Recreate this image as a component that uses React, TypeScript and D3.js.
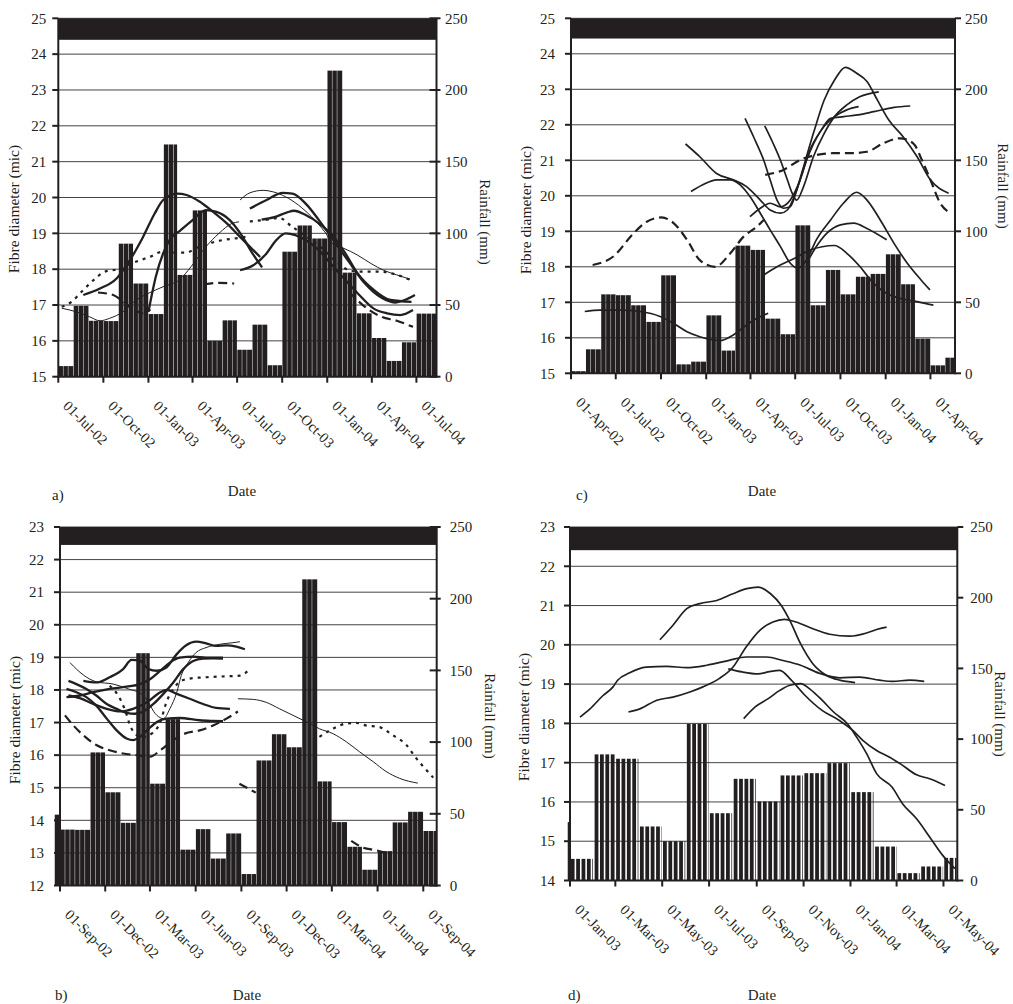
import React from "react";
import * as d3 from "d3";

type Pt = [string, number];
type Style = "thick" | "thin" | "med" | "dash" | "dot";
type Profile = { style: Style; pts: Pt[] };

const parseDay = d3.timeParse("%Y-%m-%d") as (s: string) => Date;
const parseMonth = d3.timeParse("%Y-%m") as (s: string) => Date;
const fmtTick = d3.timeFormat("%d-%b-%y");

// ---------- rainfall, mm per month ----------
// a) and b) are the same site
const rainMonthsAB = [
  "2002-07", "2002-08", "2002-09", "2002-10", "2002-11", "2002-12",
  "2003-01", "2003-02", "2003-03", "2003-04", "2003-05", "2003-06",
  "2003-07", "2003-08", "2003-09", "2003-10", "2003-11", "2003-12",
  "2004-01", "2004-02", "2004-03", "2004-04", "2004-05", "2004-06",
  "2004-07", "2004-08", "2004-09",
];
const rainAB = [
  7.4, 49.4, 39, 38.8, 92.8, 65,
  43.7, 162, 71, 116, 25, 39.3,
  18.8, 36.3, 8, 87.2, 105.5, 96.4,
  213.5, 72.6, 44.2, 27, 11, 24,
  44, 51.4, 38,
];
const rainMonthsC = [
  "2002-04", "2002-05", "2002-06", "2002-07", "2002-08", "2002-09",
  "2002-10", "2002-11", "2002-12", "2003-01", "2003-02", "2003-03",
  "2003-04", "2003-05", "2003-06", "2003-07", "2003-08", "2003-09",
  "2003-10", "2003-11", "2003-12", "2004-01", "2004-02", "2004-03",
  "2004-04", "2004-05",
];
const rainC = [
  1.5, 16.9, 55.6, 55, 47.9, 36.2,
  69, 6.3, 8.2, 40.8, 16, 89.9,
  86.9, 38.5, 27.5, 104.2, 47.9, 72.8,
  55.6, 68, 70, 83.8, 62.7, 24.4,
  5.6, 11,
];
const rainMonthsD = [
  "2002-12", "2003-01", "2003-02", "2003-03", "2003-04", "2003-05",
  "2003-06", "2003-07", "2003-08", "2003-09", "2003-10", "2003-11",
  "2003-12", "2004-01", "2004-02", "2004-03", "2004-04", "2004-05",
];
const rainD = [
  41.3, 15.3, 89.2, 86.1, 38.2, 27.8,
  110.8, 47.6, 71.9, 55.9, 74.3, 75.9,
  83, 62.5, 24, 5.2, 9.9, 16,
];

const rainTicks = [0, 50, 100, 150, 200, 250];

// ---------- date ticks ----------
const ticksA = ["2002-07-01", "2002-10-01", "2003-01-01", "2003-04-01", "2003-07-01", "2003-10-01", "2004-01-01", "2004-04-01", "2004-07-01"];
const ticksB = ["2002-09-01", "2002-12-01", "2003-03-01", "2003-06-01", "2003-09-01", "2003-12-01", "2004-03-01", "2004-06-01", "2004-09-01"];
const ticksC = ["2002-04-01", "2002-07-01", "2002-10-01", "2003-01-01", "2003-04-01", "2003-07-01", "2003-10-01", "2004-01-01", "2004-04-01"];
const ticksD = ["2003-01-01", "2003-03-01", "2003-05-01", "2003-07-01", "2003-09-01", "2003-11-01", "2004-01-01", "2004-03-01", "2004-05-01"];

// ---------- fibre diameter profiles (mic) ----------
const profilesA: Profile[] = [
  { style: "thick", pts: [["2002-08-21", 17.28], ["2002-09-24", 17.46], ["2002-10-28", 17.74], ["2002-11-24", 18.25], ["2002-12-21", 18.9], ["2003-01-14", 19.56], ["2003-01-31", 19.93], ["2003-02-28", 20.11], ["2003-03-20", 20.07], ["2003-04-16", 19.88], ["2003-05-13", 19.6], ["2003-06-10", 19.28], ["2003-07-07", 18.9], ["2003-08-03", 18.53], ["2003-08-17", 18.34]] },
  { style: "thick", pts: [["2003-01-01", 16.81], ["2003-01-16", 17.79], ["2003-01-31", 18.44], ["2003-02-13", 18.81], ["2003-03-08", 19.09], ["2003-04-01", 19.37], ["2003-04-28", 19.65], ["2003-05-20", 19.6], ["2003-06-16", 19.37], ["2003-07-10", 18.95], ["2003-08-01", 18.45], ["2003-08-21", 18.05]] },
  { style: "thin", pts: [["2002-07-08", 16.91], ["2002-08-07", 16.81], ["2002-09-03", 16.67], ["2002-09-24", 16.56], ["2002-10-14", 16.63], ["2002-11-10", 16.81], ["2002-12-07", 17.14], ["2002-12-31", 17.32], ["2003-01-31", 17.51], ["2003-03-05", 17.7], ["2003-03-29", 18.07], ["2003-04-28", 18.62], ["2003-05-25", 19.0], ["2003-06-21", 19.28], ["2003-07-05", 19.32]] },
  { style: "dot", pts: [["2002-07-08", 16.95], ["2002-07-28", 17.09], ["2002-08-21", 17.42], ["2002-09-13", 17.72], ["2002-10-04", 17.93], ["2002-10-28", 17.99], ["2002-11-27", 18.16], ["2002-12-15", 18.25], ["2003-01-05", 18.35], ["2003-01-28", 18.48], ["2003-02-20", 18.46], ["2003-03-19", 18.46], ["2003-04-10", 18.6], ["2003-05-05", 18.72], ["2003-06-01", 18.81], ["2003-06-28", 18.86], ["2003-07-18", 18.9]] },
  { style: "dash", pts: [["2002-09-20", 17.35], ["2002-10-21", 17.28], ["2002-11-10", 17.1], ["2002-12-05", 16.85], ["2002-12-20", 16.77], ["2003-01-05", 16.88]] },
  { style: "dash", pts: [["2003-04-25", 17.58], ["2003-05-25", 17.62], ["2003-06-25", 17.6]] },
  { style: "thin", pts: [["2003-07-07", 19.93], ["2003-07-27", 20.13], ["2003-08-23", 20.2], ["2003-09-12", 20.16], ["2003-10-08", 20.02], ["2003-11-03", 19.79], ["2003-11-30", 19.46], ["2003-12-27", 19.04], ["2004-01-15", 18.67], ["2004-02-04", 18.58], ["2004-03-03", 18.39], ["2004-03-30", 18.16], ["2004-04-25", 17.97], ["2004-05-22", 17.84], ["2004-06-18", 17.72]] },
  { style: "dot", pts: [["2003-07-27", 19.33], ["2003-08-30", 19.38], ["2003-09-25", 19.43], ["2003-10-20", 19.2], ["2003-11-20", 18.9], ["2003-12-20", 18.6], ["2004-01-20", 18.2], ["2004-02-20", 17.95], ["2004-03-20", 17.93], ["2004-04-20", 17.93], ["2004-05-20", 17.85], ["2004-06-22", 17.68]] },
  { style: "thick", pts: [["2003-07-27", 19.69], ["2003-08-30", 19.93], ["2003-10-02", 20.13], ["2003-10-22", 20.11], ["2003-11-18", 19.83], ["2003-12-15", 19.37], ["2004-01-11", 18.86], ["2004-02-14", 18.21], ["2004-03-18", 17.6], ["2004-04-21", 17.2], ["2004-05-18", 17.07], ["2004-06-07", 17.14], ["2004-06-28", 17.28]] },
  { style: "thick", pts: [["2003-08-20", 19.38], ["2003-09-15", 19.45], ["2003-10-10", 19.58], ["2003-10-25", 19.63], ["2003-11-18", 19.51], ["2003-12-15", 19.28], ["2004-01-11", 18.95], ["2004-02-07", 18.44], ["2004-03-03", 17.88], ["2004-04-05", 17.42], ["2004-05-09", 17.14], ["2004-06-21", 17.09]] },
  { style: "thick", pts: [["2003-07-07", 17.97], ["2003-08-03", 18.11], ["2003-08-30", 18.44], ["2003-09-19", 18.81], ["2003-10-08", 19.0], ["2003-10-28", 18.95], ["2003-11-24", 18.76], ["2003-12-15", 18.53], ["2004-01-11", 18.11], ["2004-02-07", 17.7], ["2004-03-03", 17.33], ["2004-04-05", 16.9], ["2004-05-02", 16.77], ["2004-05-29", 16.72], ["2004-06-24", 16.86]] },
  { style: "dash", pts: [["2004-02-14", 17.37], ["2004-03-18", 16.95], ["2004-04-21", 16.67], ["2004-05-22", 16.56], ["2004-06-24", 16.39]] },
];

const profilesB: Profile[] = [
  { style: "thin", pts: [["2002-09-21", 18.84], ["2002-10-18", 18.46], ["2002-11-13", 18.25], ["2002-12-17", 18.18], ["2003-01-13", 18.05], ["2003-02-16", 17.83], ["2003-03-15", 17.22], ["2003-03-28", 17.12], ["2003-04-10", 17.42], ["2003-04-24", 17.93], ["2003-05-03", 18.44], ["2003-05-17", 18.84], ["2003-06-02", 19.15], ["2003-06-22", 19.3], ["2003-07-19", 19.4], ["2003-08-15", 19.45], ["2003-08-29", 19.48]] },
  { style: "thick", pts: [["2002-10-18", 18.28], ["2002-11-13", 18.23], ["2002-12-10", 18.39], ["2003-01-06", 18.64], ["2003-01-23", 18.92], ["2003-02-09", 18.89], ["2003-02-26", 18.64], ["2003-03-15", 18.59], ["2003-04-03", 18.69], ["2003-04-24", 19.1], ["2003-05-13", 19.37], ["2003-06-02", 19.48], ["2003-06-22", 19.43], ["2003-07-12", 19.35], ["2003-08-02", 19.37], ["2003-08-22", 19.33], ["2003-09-08", 19.25]] },
  { style: "thick", pts: [["2002-09-18", 18.28], ["2002-10-04", 18.18], ["2002-10-24", 18.03], ["2002-11-13", 17.83], ["2002-12-04", 17.57], ["2002-12-24", 17.42], ["2003-01-13", 17.3], ["2003-01-30", 17.27], ["2003-02-16", 17.34], ["2003-03-08", 17.57], ["2003-03-28", 17.88], ["2003-04-17", 18.23], ["2003-05-07", 18.64], ["2003-05-27", 18.89], ["2003-06-16", 18.96], ["2003-07-06", 18.97], ["2003-07-26", 18.96]] },
  { style: "thick", pts: [["2002-09-14", 18.03], ["2002-10-04", 17.93], ["2002-10-24", 17.78], ["2002-11-13", 17.52], ["2002-12-04", 17.12], ["2002-12-24", 16.76], ["2003-01-13", 16.51], ["2003-01-26", 16.46], ["2003-02-09", 16.56], ["2003-02-23", 16.76], ["2003-03-15", 17.02], ["2003-04-03", 17.12], ["2003-04-30", 17.14], ["2003-06-09", 17.07], ["2003-07-06", 17.05], ["2003-07-26", 17.04]] },
  { style: "thick", pts: [["2002-09-14", 17.78], ["2002-10-11", 17.83], ["2002-11-07", 17.93], ["2002-12-10", 18.03], ["2003-01-13", 18.1], ["2003-02-09", 18.18], ["2003-03-01", 18.33], ["2003-03-22", 18.59], ["2003-04-10", 18.84], ["2003-04-30", 18.99], ["2003-05-27", 19.02], ["2003-06-22", 18.99], ["2003-07-26", 18.99]] },
  { style: "thick", pts: [["2002-09-18", 17.83], ["2002-10-11", 17.75], ["2002-11-07", 17.57], ["2002-12-04", 17.42], ["2002-12-31", 17.34], ["2003-01-26", 17.42], ["2003-02-23", 17.62], ["2003-03-22", 17.93], ["2003-04-03", 18.0], ["2003-04-24", 17.88], ["2003-05-20", 17.73], ["2003-06-16", 17.57], ["2003-07-12", 17.45], ["2003-08-09", 17.42]] },
  { style: "dot", pts: [["2002-12-10", 18.13], ["2002-12-27", 17.83], ["2003-01-09", 17.42], ["2003-01-23", 16.81], ["2003-02-12", 16.55], ["2003-03-08", 16.7], ["2003-03-22", 17.02], ["2003-04-03", 17.62], ["2003-04-17", 18.03], ["2003-05-03", 18.28], ["2003-05-20", 18.35], ["2003-06-22", 18.39], ["2003-08-02", 18.42], ["2003-08-29", 18.44], ["2003-09-18", 18.64]] },
  { style: "dash", pts: [["2002-09-11", 17.22], ["2002-09-28", 16.91], ["2002-10-18", 16.61], ["2002-11-13", 16.31], ["2002-12-10", 16.15], ["2003-01-06", 16.05], ["2003-02-02", 16.0], ["2003-03-01", 15.95], ["2003-03-22", 16.15], ["2003-04-17", 16.46], ["2003-05-10", 16.66], ["2003-06-09", 16.76], ["2003-07-06", 16.91], ["2003-08-02", 17.12], ["2003-08-25", 17.34]] },
  { style: "thin", pts: [["2003-08-25", 17.73], ["2003-09-25", 17.71], ["2003-10-21", 17.62], ["2003-11-17", 17.42], ["2003-12-14", 17.22], ["2004-01-10", 17.02], ["2004-02-05", 16.81], ["2004-03-03", 16.66], ["2004-03-30", 16.41], ["2004-04-26", 16.1], ["2004-05-23", 15.8], ["2004-06-18", 15.5], ["2004-07-15", 15.29], ["2004-08-21", 15.14]] },
  { style: "dot", pts: [["2004-02-05", 16.56], ["2004-03-03", 16.81], ["2004-03-30", 16.97], ["2004-04-19", 16.99], ["2004-05-09", 16.91], ["2004-06-05", 16.86], ["2004-07-02", 16.61], ["2004-07-29", 16.31], ["2004-08-18", 15.9], ["2004-09-01", 15.65], ["2004-09-21", 15.31]] },
  { style: "dash", pts: [["2003-08-28", 15.12], ["2003-09-30", 14.85]] },
  { style: "dash", pts: [["2004-04-09", 13.37], ["2004-05-03", 13.16], ["2004-05-29", 13.08], ["2004-06-18", 13.0]] },
];

const profilesC: Profile[] = [
  { style: "dash", pts: [["2002-05-15", 18.05], ["2002-06-26", 18.29], ["2002-08-06", 18.94], ["2002-09-02", 19.27], ["2002-10-02", 19.39], ["2002-10-26", 19.24], ["2002-11-23", 18.76], ["2002-12-19", 18.19], ["2003-01-19", 18.0], ["2003-02-19", 18.38], ["2003-03-18", 18.85], ["2003-04-14", 19.13], ["2003-04-28", 19.32]] },
  { style: "dash", pts: [["2003-05-01", 20.59], ["2003-06-07", 20.73], ["2003-07-11", 21.01], ["2003-08-13", 21.15], ["2003-09-16", 21.2], ["2003-10-21", 21.2], ["2003-11-24", 21.24], ["2003-12-27", 21.48], ["2004-01-30", 21.62], ["2004-02-26", 21.48], ["2004-03-15", 21.0], ["2004-04-01", 20.45], ["2004-04-21", 19.79], ["2004-05-12", 19.51]] },
  { style: "med", pts: [["2002-04-29", 16.74], ["2002-05-30", 16.78], ["2002-07-10", 16.78], ["2002-08-20", 16.74], ["2002-09-29", 16.6], ["2002-10-26", 16.41], ["2002-11-23", 16.17], ["2002-12-19", 16.03], ["2003-01-15", 15.94], ["2003-01-29", 15.92], ["2003-02-25", 16.08], ["2003-03-24", 16.36], ["2003-04-08", 16.5], ["2003-05-07", 16.69]] },
  { style: "med", pts: [["2003-03-21", 22.18], ["2003-04-07", 21.67], ["2003-04-28", 21.0], ["2003-05-11", 20.45], ["2003-05-25", 19.88], ["2003-06-07", 19.65], ["2003-06-21", 19.69], ["2003-07-04", 20.16], ["2003-07-18", 20.82], ["2003-08-07", 21.76], ["2003-08-29", 22.7], ["2003-09-19", 23.26], ["2003-10-11", 23.62], ["2003-11-03", 23.45], ["2003-11-24", 23.22], ["2003-12-15", 22.7], ["2004-01-07", 22.14], ["2004-02-05", 21.67], ["2004-03-05", 21.1], ["2004-04-01", 20.45], ["2004-05-08", 20.07]] },
  { style: "med", pts: [["2003-04-30", 21.97], ["2003-05-17", 21.48], ["2003-06-01", 21.0], ["2003-06-15", 20.45], ["2003-06-25", 20.07], ["2003-07-04", 19.88], ["2003-07-18", 20.26], ["2003-08-07", 21.1], ["2003-08-29", 21.76], ["2003-09-19", 22.23], ["2003-10-14", 22.56], ["2003-11-09", 22.79], ["2003-12-18", 22.93]] },
  { style: "med", pts: [["2003-03-31", 19.41], ["2003-04-21", 19.65], ["2003-05-11", 19.79], ["2003-06-01", 19.69], ["2003-06-21", 19.88], ["2003-07-11", 20.45], ["2003-07-31", 21.29], ["2003-08-23", 21.85], ["2003-09-11", 22.18], ["2003-10-08", 22.23], ["2003-11-05", 22.28], ["2003-12-08", 22.37], ["2004-01-18", 22.49], ["2004-02-20", 22.53]] },
  { style: "med", pts: [["2002-11-20", 21.46], ["2002-12-19", 21.1], ["2003-01-22", 20.63], ["2003-02-25", 20.45], ["2003-03-24", 20.26], ["2003-04-21", 19.88], ["2003-05-11", 19.6], ["2003-06-01", 19.51], ["2003-06-15", 19.6], ["2003-07-04", 20.16], ["2003-07-24", 21.0], ["2003-08-23", 21.85], ["2003-09-19", 22.23], ["2003-10-14", 22.42], ["2003-11-07", 22.51]] },
  { style: "med", pts: [["2002-12-01", 20.12], ["2002-12-25", 20.31], ["2003-01-22", 20.45], ["2003-02-19", 20.45], ["2003-03-11", 20.31], ["2003-03-31", 19.98], ["2003-04-21", 19.51], ["2003-05-11", 19.04], ["2003-06-01", 18.57], ["2003-06-21", 18.1], ["2003-07-07", 17.96], ["2003-07-24", 18.19], ["2003-08-13", 18.76], ["2003-09-11", 19.32], ["2003-10-07", 19.79], ["2003-11-03", 20.1], ["2003-11-24", 19.88], ["2003-12-21", 19.32], ["2004-01-18", 18.66], ["2004-02-14", 18.1], ["2004-03-13", 17.63], ["2004-03-31", 17.35]] },
  { style: "med", pts: [["2003-07-24", 18.1], ["2003-08-13", 18.57], ["2003-09-03", 18.94], ["2003-10-01", 19.18], ["2003-10-28", 19.23], ["2003-11-24", 19.08], ["2004-01-03", 18.76]] },
  { style: "med", pts: [["2003-04-28", 17.77], ["2003-05-25", 18.0], ["2003-06-30", 18.24], ["2003-07-31", 18.47], ["2003-09-19", 18.6], ["2003-10-14", 18.38], ["2003-11-10", 18.0], ["2003-12-07", 17.54], ["2004-01-03", 17.25], ["2004-01-30", 17.11], ["2004-03-05", 17.02], ["2004-04-07", 16.92]] },
];

const profilesD: Profile[] = [
  { style: "med", pts: [["2003-04-28", 20.13], ["2003-05-15", 20.5], ["2003-06-02", 20.92], ["2003-06-19", 21.05], ["2003-07-11", 21.13], ["2003-08-01", 21.3], ["2003-08-19", 21.43], ["2003-09-03", 21.47], ["2003-09-19", 21.3], ["2003-10-03", 21.0], ["2003-10-14", 20.62], ["2003-10-28", 20.03], ["2003-11-13", 19.52], ["2003-12-01", 19.22], ["2003-12-18", 19.1], ["2004-01-07", 19.04]] },
  { style: "med", pts: [["2003-03-18", 18.29], ["2003-04-02", 18.37], ["2003-04-24", 18.59], ["2003-05-15", 18.67], ["2003-06-06", 18.8], ["2003-06-23", 18.93], ["2003-07-14", 19.14], ["2003-08-01", 19.43], ["2003-08-18", 19.94], ["2003-09-05", 20.37], ["2003-09-22", 20.58], ["2003-10-07", 20.65], ["2003-10-22", 20.58], ["2003-11-13", 20.41], ["2003-12-05", 20.27], ["2003-12-31", 20.22], ["2004-01-22", 20.3], ["2004-02-04", 20.39], ["2004-02-17", 20.45]] },
  { style: "med", pts: [["2003-01-14", 18.16], ["2003-01-27", 18.37], ["2003-02-13", 18.71], ["2003-02-26", 18.93], ["2003-03-04", 19.1], ["2003-03-19", 19.28], ["2003-04-10", 19.43], ["2003-05-07", 19.45], ["2003-06-02", 19.42], ["2003-06-28", 19.48], ["2003-07-26", 19.6], ["2003-08-18", 19.69], ["2003-09-14", 19.69], ["2003-10-05", 19.6], ["2003-10-28", 19.48], ["2003-11-21", 19.28], ["2003-12-18", 19.16], ["2004-01-13", 19.18], ["2004-02-08", 19.1], ["2004-02-25", 19.07], ["2004-03-18", 19.1], ["2004-04-06", 19.07]] },
  { style: "med", pts: [["2003-07-26", 19.39], ["2003-08-13", 19.31], ["2003-09-03", 19.26], ["2003-09-16", 19.31], ["2003-10-01", 19.35], ["2003-10-16", 19.1], ["2003-11-03", 18.71], ["2003-11-25", 18.33], ["2003-12-17", 18.08], ["2004-01-04", 17.82], ["2004-01-17", 17.57], ["2004-02-04", 17.31], ["2004-02-21", 17.14], ["2004-03-06", 16.97], ["2004-03-27", 16.69], ["2004-04-13", 16.59], ["2004-05-03", 16.42]] },
  { style: "med", pts: [["2003-08-15", 18.12], ["2003-08-30", 18.42], ["2003-09-16", 18.63], ["2003-10-01", 18.84], ["2003-10-14", 18.97], ["2003-10-28", 19.01], ["2003-11-10", 18.86], ["2003-11-25", 18.59], ["2003-12-10", 18.29], ["2003-12-28", 17.99], ["2004-01-09", 17.65], ["2004-01-22", 17.23], ["2004-02-04", 16.72], ["2004-02-24", 16.38], ["2004-03-09", 15.95], ["2004-03-27", 15.57], ["2004-04-13", 15.11], ["2004-04-30", 14.64], ["2004-05-16", 14.3]] },
];

// ---------- panel layout ----------
type PanelCfg = {
  letter: string;
  left: number; right: number; top: number; bottom: number;
  xStart: string; xEnd: string;
  yDomain: [number, number];
  band: number;
  ticks: string[];
  rainMonths: string[]; rain: number[];
  rainFrom: string; rainTo: string; firstFrom?: string;
  slice: "dekad" | "week"; gap: number;
  profiles: Profile[];
  leftGap: number; rightGap: number; crossTicks: boolean;
  leftTitle: [number, number]; rightTitle: [number, number];
  dateTitle: [number, number]; letterPos: [number, number];
};

const panels: PanelCfg[] = [
  {
    letter: "a)", left: 58.3, right: 436.5, top: 18.3, bottom: 376.7,
    xStart: "2002-07-01", xEnd: "2004-08-11", yDomain: [15, 25], band: 24.4,
    ticks: ticksA, rainMonths: rainMonthsAB, rain: rainAB, rainFrom: "2002-07", rainTo: "2004-07",
    slice: "dekad", gap: 0.45, profiles: profilesA,
    leftGap: 12, rightGap: 8.5, crossTicks: true,
    leftTitle: [19, 209], rightTitle: [480, 222], dateTitle: [242, 496], letterPos: [52, 500],
  },
  {
    letter: "c)", left: 571, right: 955, top: 18.3, bottom: 373.3,
    xStart: "2002-04-01", xEnd: "2004-05-21", yDomain: [15, 25], band: 24.43,
    ticks: ticksC, rainMonths: rainMonthsC, rain: rainC, rainFrom: "2002-04", rainTo: "2004-05",
    slice: "dekad", gap: 0.45, profiles: profilesC,
    leftGap: 16, rightGap: 10, crossTicks: false,
    leftTitle: [530.5, 210], rightTitle: [998, 186], dateTitle: [762, 496], letterPos: [576, 500],
  },
  {
    letter: "b)", left: 60, right: 436.7, top: 527, bottom: 885.5,
    xStart: "2002-09-01", xEnd: "2004-09-28", yDomain: [12, 23], band: 22.45,
    ticks: ticksB, rainMonths: rainMonthsAB, rain: rainAB, rainFrom: "2002-08", rainTo: "2004-09",
    firstFrom: "2002-08-21", slice: "dekad", gap: 0.45, profiles: profilesB,
    leftGap: 16, rightGap: 13, crossTicks: true,
    leftTitle: [20, 720], rightTitle: [485, 716], dateTitle: [247, 1000], letterPos: [55, 1000],
  },
  {
    letter: "d)", left: 570, right: 957.3, top: 527, bottom: 880.5,
    xStart: "2003-01-01", xEnd: "2004-05-19", yDomain: [14, 23], band: 22.41,
    ticks: ticksD, rainMonths: rainMonthsD, rain: rainD, rainFrom: "2002-12", rainTo: "2004-05",
    firstFrom: "2002-12-28", slice: "week", gap: 1.6, profiles: profilesD,
    leftGap: 15, rightGap: 13, crossTicks: false,
    leftTitle: [529, 717], rightTitle: [995, 714], dateTitle: [762, 1000], letterPos: [568, 1000],
  },
];

const INK = "#231f20";
const FONT = "'Liberation Serif', 'DejaVu Serif', serif";

const lineStyles: Record<Style, { w: number; dash?: string }> = {
  thick: { w: 2.3 },
  thin: { w: 1 },
  med: { w: 1.7 },
  dash: { w: 2.2, dash: "9 5" },
  dot: { w: 2.2, dash: "3 5" },
};

// split a span into 10-day or 7-day columns
function slices(start: Date, end: Date, mode: "dekad" | "week") {
  const out: [Date, Date][] = [];
  let d = start;
  while (d < end) {
    let next: Date;
    if (mode === "week") next = d3.timeDay.offset(d, 7);
    else {
      const day = d.getDate();
      next = day < 11 ? new Date(d.getFullYear(), d.getMonth(), 11)
        : day < 21 ? new Date(d.getFullYear(), d.getMonth(), 21)
        : new Date(d.getFullYear(), d.getMonth() + 1, 1);
    }
    if (next > end) next = end;
    out.push([d, next]);
    d = next;
  }
  return out;
}

function Panel({ cfg }: { cfg: PanelCfg }) {
  const x = d3.scaleTime().domain([parseDay(cfg.xStart), parseDay(cfg.xEnd)]).range([cfg.left, cfg.right]);
  const y = d3.scaleLinear().domain(cfg.yDomain).range([cfg.bottom, cfg.top]);
  const yR = d3.scaleLinear().domain([0, 250]).range([cfg.bottom, cfg.top]);
  const yTicks = d3.range(cfg.yDomain[0], cfg.yDomain[1] + 1);

  // rainfall columns
  const from = parseMonth(cfg.rainFrom), to = parseMonth(cfg.rainTo);
  const rows = cfg.rainMonths
    .map((m, i) => ({ m: parseMonth(m), v: cfg.rain[i] }))
    .filter((r) => r.m >= from && r.m <= to);
  const cols: { a: Date; b: Date; v: number }[] = [];
  rows.forEach((r, i) => {
    const s = i === 0 && cfg.firstFrom ? parseDay(cfg.firstFrom) : r.m;
    const e = i === rows.length - 1 ? x.domain()[1] : d3.timeMonth.offset(r.m, 1);
    slices(s, e, cfg.slice).forEach(([a, b]) => cols.push({ a, b, v: r.v }));
  });

  const line = d3.line<Pt>()
    .x((p) => x(parseDay(p[0])))
    .y((p) => y(p[1]))
    .curve(d3.curveMonotoneX);

  const textProps = { fill: INK, fontFamily: FONT };

  return (
    <g>
      {/* gridlines */}
      {yTicks.slice(1).map((t) => (
        <line key={"g" + t} x1={cfg.left} x2={cfg.right} y1={y(t)} y2={y(t)} stroke="#444" strokeWidth={1} />
      ))}
      {/* rainfall */}
      {cols.map((c, i) => (
        <rect key={"r" + i} x={x(c.a) + cfg.gap / 2} width={Math.max(0.4, x(c.b) - x(c.a) - cfg.gap)}
          y={yR(c.v)} height={yR(0) - yR(c.v)} fill={INK} />
      ))}
      {/* top band */}
      <rect x={cfg.left} width={cfg.right - cfg.left} y={cfg.top} height={y(cfg.band) - cfg.top} fill={INK} />
      {/* fibre diameter profiles */}
      {cfg.profiles.map((p, i) => (
        <path key={"p" + i} d={line(p.pts) || ""} fill="none" stroke={INK}
          strokeWidth={lineStyles[p.style].w} strokeDasharray={lineStyles[p.style].dash} strokeLinecap="butt" />
      ))}
      {/* axes */}
      <line x1={cfg.left} x2={cfg.left} y1={cfg.top} y2={cfg.bottom + 1} stroke={INK} strokeWidth={2} />
      <line x1={cfg.right} x2={cfg.right} y1={cfg.top} y2={cfg.bottom + 1} stroke={INK} strokeWidth={2} />
      <line x1={cfg.left} x2={cfg.right} y1={cfg.bottom} y2={cfg.bottom} stroke={INK} strokeWidth={2} />
      {yTicks.map((t) => (
        <g key={"yl" + t}>
          <line x1={cfg.left - 6} x2={cfg.left} y1={y(t)} y2={y(t)} stroke={INK} strokeWidth={2} />
          <text x={cfg.left - cfg.leftGap} y={y(t)} dy="0.35em" textAnchor="end" fontSize={15} {...textProps}>{t}</text>
        </g>
      ))}
      {rainTicks.map((t) => (
        <g key={"yr" + t}>
          <line x1={cfg.crossTicks ? cfg.right - 7 : cfg.right} x2={cfg.right + (cfg.crossTicks ? 4 : 6)}
            y1={yR(t)} y2={yR(t)} stroke={INK} strokeWidth={2} />
          <text x={cfg.right + cfg.rightGap} y={yR(t)} dy="0.35em" textAnchor="start" fontSize={15} {...textProps}>{t}</text>
        </g>
      ))}
      {cfg.ticks.map((t) => {
        const px = x(parseDay(t));
        return (
          <g key={"xt" + t}>
            <line x1={px} x2={px} y1={cfg.bottom} y2={cfg.bottom + 6} stroke={INK} strokeWidth={2} />
            <text transform={`translate(${px + 4},${cfg.bottom + 30}) rotate(45)`} fontSize={14.5} {...textProps}>
              {fmtTick(parseDay(t))}
            </text>
          </g>
        );
      })}
      {/* titles */}
      <text transform={`translate(${cfg.leftTitle[0]},${cfg.leftTitle[1]}) rotate(-90)`} textAnchor="middle" fontSize={15.5} {...textProps}>
        Fibre diameter (mic)
      </text>
      <text transform={`translate(${cfg.rightTitle[0]},${cfg.rightTitle[1]}) rotate(90)`} textAnchor="middle" fontSize={15} {...textProps}>
        Rainfall (mm)
      </text>
      <text x={cfg.dateTitle[0]} y={cfg.dateTitle[1]} textAnchor="middle" fontSize={15} {...textProps}>Date</text>
      <text x={cfg.letterPos[0]} y={cfg.letterPos[1]} fontSize={15} {...textProps}>{cfg.letter}</text>
    </g>
  );
}

export default function App() {
  return (
    <svg width={1013} height={1004} style={{ position: "fixed", left: 0, top: 0, background: "#fff" }}>
      <rect width={1013} height={1004} fill="#fff" />
      {panels.map((p) => (
        <Panel key={p.letter} cfg={p} />
      ))}
    </svg>
  );
}
